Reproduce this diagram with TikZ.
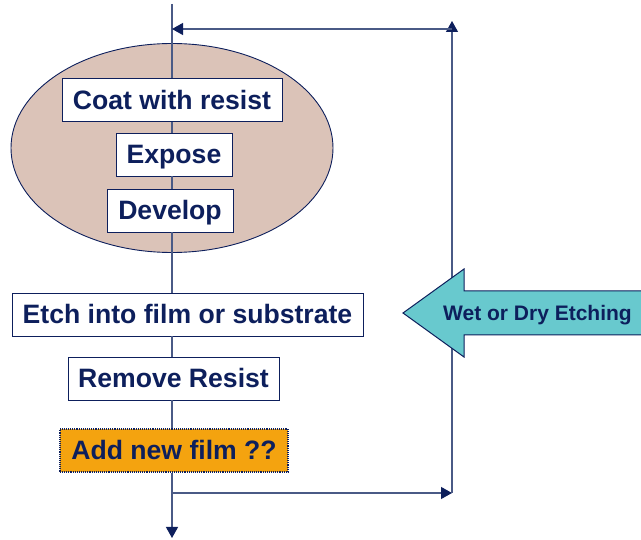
\documentclass[tikz,border=0pt]{standalone}
\usepackage{fontspec}
\setmainfont{Liberation Sans}
\usetikzlibrary{arrows.meta,shapes.geometric}
\definecolor{navy}{HTML}{0D1F5C}
\definecolor{linec}{HTML}{4A5A86}
\definecolor{tan}{HTML}{DBC3B8}
\definecolor{film}{HTML}{F4A30F}
\definecolor{teal}{HTML}{68C9CE}
\tikzset{
  stepbox/.style={draw=navy, line width=0.9pt, fill=white, inner sep=0pt,
    text=navy, font=\fontsize{26.6}{30}\selectfont\bfseries,
    text height=19pt, text depth=0pt, minimum height=43pt},
  flow/.style={draw=linec, line width=1.2pt},
  tip/.style={-{Triangle[length=11pt,width=12pt,fill=navy,color=navy]}},
}
\begin{document}
\begin{tikzpicture}[x=1pt,y=-1pt]
\useasboundingbox (0,0) rectangle (641,540);
% ellipse
\node[ellipse, draw=navy, line width=0.9pt, fill=tan, minimum width=322pt, minimum height=209pt, inner sep=0pt] (group) at (172,148) {};
% coordinates
\coordinate (top) at (172,4);
\coordinate (bot) at (172,538);
\coordinate (join) at (172,493);
\coordinate (corner) at (452,493);
\coordinate (rtop) at (452,21);
\coordinate (rjoin) at (452,29);
\coordinate (ltop) at (172,29);
% boxes
\node[stepbox, minimum width=220pt] (coat) at (172,100) {Coat with resist};
\node[stepbox, minimum width=116pt] (expose) at (174,154.5) {Expose};
\node[stepbox, minimum width=126pt] (develop) at (170,210.5) {Develop};
\node[stepbox, minimum width=351pt] (etch) at (187.5,314.5) {Etch into film or substrate};
\node[stepbox, minimum width=211pt] (remove) at (173.5,378.5) {Remove Resist};
\node[stepbox, minimum width=228pt, fill=film, densely dotted, line width=1.1pt] (film) at (174,450.5) {Add new film ??};
% main flow
\draw[flow] (top) -- (coat.north -| top);
\draw[flow] (coat.south -| top) -- (expose.north -| top);
\draw[flow] (expose.south -| top) -- (develop.north -| top);
\draw[flow] (develop.south -| top) -- (etch.north -| top);
\draw[flow] (etch.south -| top) -- (remove.north -| top);
\draw[flow] (remove.south -| top) -- (film.north -| top);
\draw[flow, tip] (film.south -| top) -- (bot);
% loop
\draw[flow, tip] (join) -- (corner);
\draw[flow, tip] (corner) -- (rtop);
\draw[flow, tip] (rjoin) -- (ltop);
% etching arrow
\fill[teal] (403,313) -- (464,269) -- (464,291) -- (641,291) -- (641,335) -- (464,335) -- (464,357) -- cycle;
\draw[navy, line width=1pt, line join=miter] (641,291) -- (464,291) -- (464,269) -- (403,313) -- (464,357) -- (464,335) -- (641,335);
\node[text=navy, font=\fontsize{21}{24}\selectfont\bfseries, inner sep=0pt, anchor=base west] (etchlabel) at (443,320.5) {Wet or Dry Etching};
\end{tikzpicture}
\end{document}
